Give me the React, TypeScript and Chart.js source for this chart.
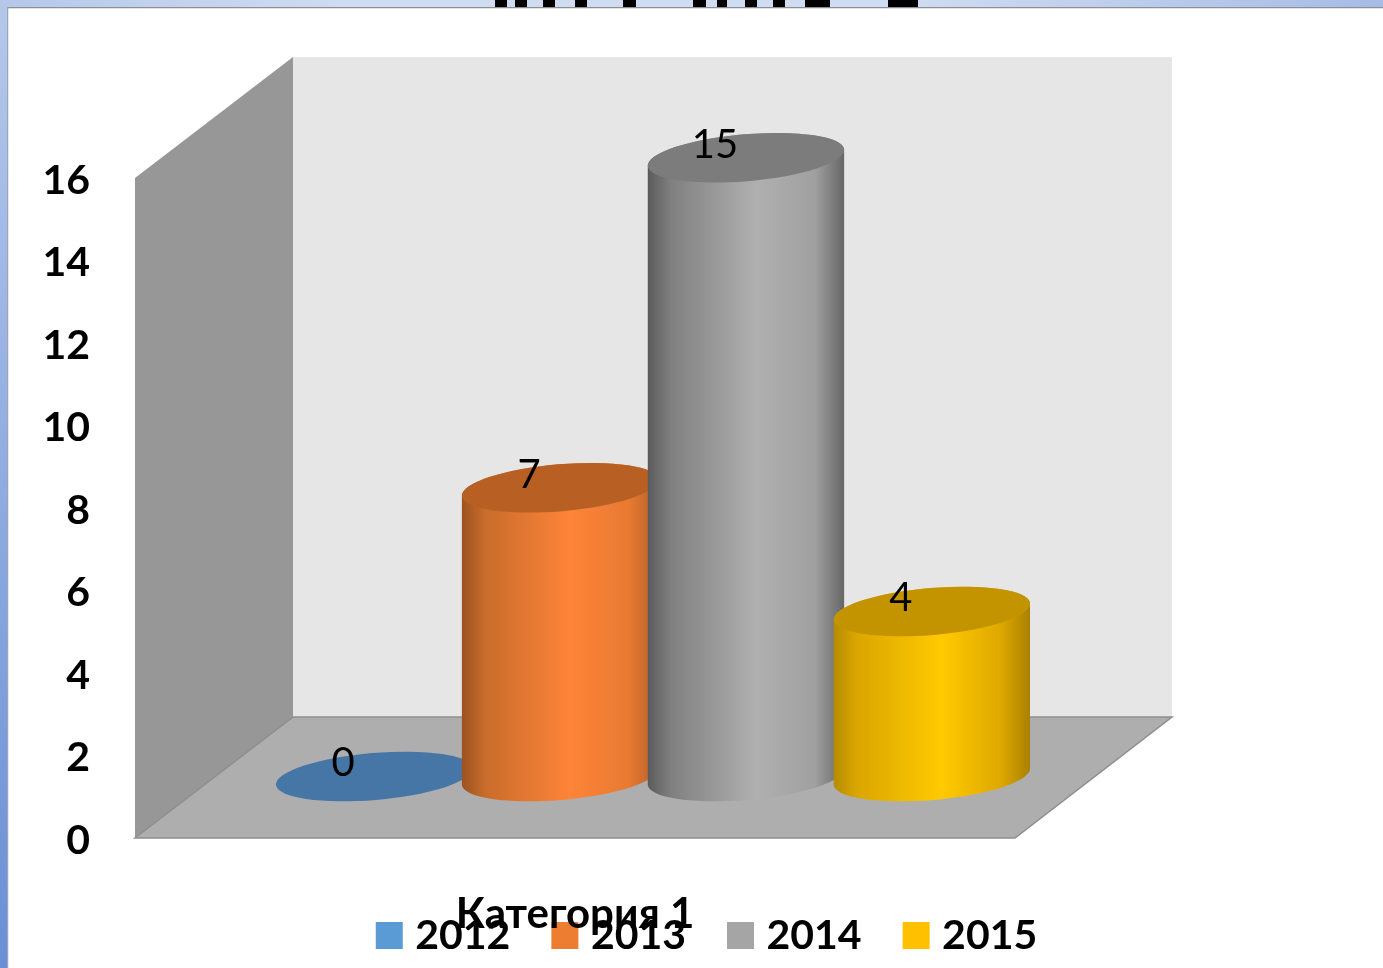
import React, { useEffect, useRef } from "react";
import { Chart, registerables } from "chart.js";

Chart.register(...registerables);

const categories = ["Категория 1"];
const seriesNames = ["2012", "2013", "2014", "2015"];
const values2012 = [0];
const values2013 = [7];
const values2014 = [15];
const values2015 = [4];
const legendColors = ["#5b9bd5", "#ed7d31", "#a5a5a5", "#ffc000"];
const topColors = ["#4576a5", "#b86023", "#7c7c7c", "#c49300"];
const sideStops = [
  ["#3d6a94", "#4f86b8", "#5b9bd5", "#5b9bd5", "#3d6a94"],
  ["#9b5220", "#c96c2b", "#fd8438", "#e87a32", "#b25e27"],
  ["#5a5a5a", "#808080", "#b0b0b0", "#a0a0a0", "#666666"],
  ["#b58b00", "#dba600", "#ffca00", "#dfa800", "#a88000"],
];
const yMax = 16;
const yStep = 2;

const FONT = "Lato, 'Open Sans', sans-serif";
const DEPTH_X = 158;
const DEPTH_Y = 120;
const BAR_SHIFT_X = 78;
const BAR_SHIFT_Y = 61.5;
const ELLIPSE_RY = 23.5;
const ELLIPSE_ROT = -0.085;
const LEGEND_SHIFT = 203;
const LEGEND_TEXT_Y = 915;
const Y_LABEL_NUDGE = 2.5;

// Fragments of a slide title cut off by the top of the picture: [x, width]
const titleScraps: number[][] = [
  [495, 12], [515, 12], [543, 12], [575, 12], [623, 13], [693, 13],
  [717, 10], [745, 12], [773, 12], [805, 25], [888, 30],
];

function poly(ctx: CanvasRenderingContext2D, pts: number[][], fill: string, stroke?: string) {
  ctx.beginPath();
  pts.forEach((p, i) => (i ? ctx.lineTo(p[0], p[1]) : ctx.moveTo(p[0], p[1])));
  ctx.closePath();
  ctx.fillStyle = fill;
  ctx.fill();
  if (stroke) {
    ctx.strokeStyle = stroke;
    ctx.lineWidth = 1.5;
    ctx.stroke();
  }
}

const slidePlugin = {
  id: "slideAnd3d",
  afterLayout(chart: any) {
    const legend = chart.legend;
    legend.left += LEGEND_SHIFT;
    legend.right += LEGEND_SHIFT;
    const dy = LEGEND_TEXT_Y - (legend.top + legend.options.labels.padding);
    legend.top += dy;
    legend.bottom += dy;
    // the axis clips its labels to its own box; the category label overlaps the legend
    chart.scales.x.bottom = chart.height;
  },
  beforeDraw(chart: any) {
    const { ctx, width, height, chartArea: a } = chart;
    chart.scales.y.getLabelItems(a).forEach((it: any) => {
      it.textOffset = Y_LABEL_NUDGE;
    });
    ctx.save();
    const top = ctx.createLinearGradient(0, 0, width, 0);
    top.addColorStop(0, "#b5c8ea");
    top.addColorStop(0.25, "#cfdcf1");
    top.addColorStop(0.65, "#d0dcf1");
    top.addColorStop(1, "#a6bce6");
    ctx.fillStyle = top;
    ctx.fillRect(0, 0, width, 8);
    const left = ctx.createLinearGradient(0, 0, 0, height);
    left.addColorStop(0, "#b5c8ea");
    left.addColorStop(1, "#6a8fd6");
    ctx.fillStyle = left;
    ctx.fillRect(0, 0, 8, height);
    ctx.fillStyle = "#000000";
    titleScraps.forEach(([x, w]) => ctx.fillRect(x, 0, w, 7));
    ctx.fillStyle = "#8d8f94";
    ctx.fillRect(7, 7, width - 7, 1.5);
    ctx.fillStyle = "#9aa6bd";
    ctx.fillRect(7, 7, 1.5, height - 7);
    ctx.fillStyle = "#ffffff";
    ctx.fillRect(8.5, 8.5, width - 8.5, height - 8.5);

    const L = a.left, R = a.right, B = a.bottom, T = a.top;
    poly(ctx, [[L + DEPTH_X, T - DEPTH_Y - 1], [R + DEPTH_X - 1, T - DEPTH_Y - 1], [R + DEPTH_X - 1, B - DEPTH_Y - 1], [L + DEPTH_X, B - DEPTH_Y - 1]], "#e6e6e6");
    poly(ctx, [[L, T], [L + DEPTH_X, T - DEPTH_Y - 1], [L + DEPTH_X, B - DEPTH_Y - 1], [L, B]], "#979797");
    poly(ctx, [[L, B], [R, B], [R + DEPTH_X - 1, B - DEPTH_Y - 1], [L + DEPTH_X, B - DEPTH_Y - 1]], "#aeaeae", "#8e8e8e");
    ctx.restore();
  },
  beforeDatasetsDraw(chart: any) {
    const { ctx } = chart;
    ctx.save();
    chart.data.datasets.forEach((ds: any, i: number) => {
      chart.getDatasetMeta(i).data.forEach((bar: any) => {
        const cx = bar.x + BAR_SHIFT_X;
        const rx = bar.width * 0.53;
        const yTop = bar.y - BAR_SHIFT_Y;
        const yBase = bar.base - BAR_SHIFT_Y;
        if (yBase - yTop > 0.5) {
          const g = ctx.createLinearGradient(cx - rx, 0, cx + rx, 0);
          const s = sideStops[i];
          g.addColorStop(0, s[0]);
          g.addColorStop(0.12, s[1]);
          g.addColorStop(0.55, s[2]);
          g.addColorStop(0.85, s[3]);
          g.addColorStop(1, s[4]);
          ctx.beginPath();
          ctx.ellipse(cx, yBase, rx, ELLIPSE_RY, ELLIPSE_ROT, 0, Math.PI);
          ctx.ellipse(cx, yTop, rx, ELLIPSE_RY, ELLIPSE_ROT, Math.PI, Math.PI * 2);
          ctx.closePath();
          ctx.fillStyle = g;
          ctx.fill();
        }
        ctx.beginPath();
        ctx.ellipse(cx, yTop, rx, ELLIPSE_RY, ELLIPSE_ROT, 0, Math.PI * 2);
        ctx.fillStyle = topColors[i];
        ctx.fill();
      });
    });
    chart.data.datasets.forEach((ds: any, i: number) => {
      chart.getDatasetMeta(i).data.forEach((bar: any, j: number) => {
        ctx.fillStyle = "#000000";
        ctx.font = `400 40px ${FONT}`;
        ctx.textAlign = "center";
        ctx.textBaseline = "middle";
        ctx.fillText(String(ds.data[j]), bar.x + BAR_SHIFT_X - 31, bar.y - BAR_SHIFT_Y - 13);
      });
    });
    ctx.restore();
    return false;
  },
};

export default function App() {
  const ref = useRef<HTMLCanvasElement>(null);
  useEffect(() => {
    document.body.style.margin = "0";
    const seriesValues = [values2012, values2013, values2014, values2015];
    const chart = new Chart(ref.current as HTMLCanvasElement, {
      type: "bar",
      data: {
        labels: categories,
        datasets: seriesNames.map((name, i) => ({
          label: name,
          data: seriesValues[i],
          backgroundColor: legendColors[i],
          borderColor: legendColors[i],
          pointStyle: "rect",
          categoryPercentage: 0.845,
          barPercentage: 1,
        })),
      },
      options: {
        responsive: false,
        animation: false,
        devicePixelRatio: 1,
        layout: { padding: { left: 0, top: 178, right: 368, bottom: 0 } },
        plugins: {
          title: { display: false },
          tooltip: { enabled: false },
          legend: {
            position: "bottom",
            labels: {
              usePointStyle: true,
              boxWidth: 11,
              boxHeight: 27,
              padding: 49,
              color: "#000000",
              font: { family: FONT, size: 41, weight: "bold" },
            },
          },
        },
        scales: {
          x: {
            grid: { display: false, drawTicks: false },
            border: { display: false },
            ticks: { color: "#000000", padding: 51, font: { family: FONT, size: 42, weight: "bold" } },
            afterFit(scale: any) {
              scale.height = 130 - (scale.chart.legend?.height ?? 0);
            },
          },
          y: {
            min: 0,
            max: yMax,
            grid: { display: false, drawTicks: false },
            border: { display: false },
            ticks: { stepSize: yStep, color: "#000000", padding: 45, font: { family: FONT, size: 41, weight: "bold" } },
            afterFit(scale: any) {
              scale.width = 135;
            },
          },
        },
      },
      plugins: [slidePlugin],
    } as any);
    return () => chart.destroy();
  }, []);
  return <canvas ref={ref} width={1383} height={968} style={{ display: "block", width: 1383, height: 968 }} />;
}
